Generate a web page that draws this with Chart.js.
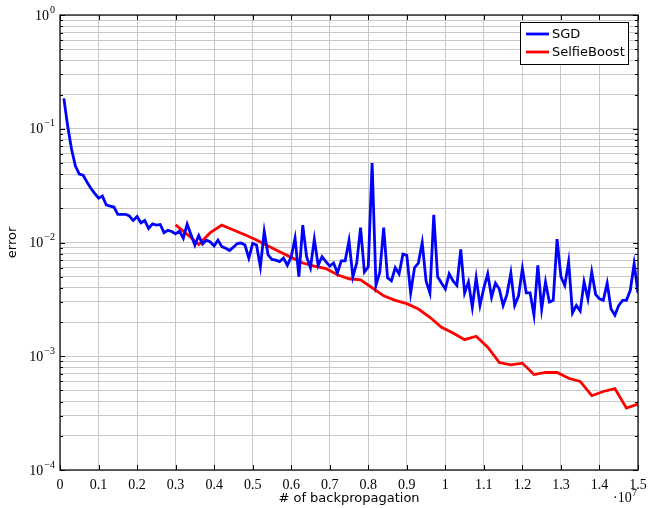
<!DOCTYPE html>
<html>
<head>
<meta charset="utf-8">
<script src="https://cdn.jsdelivr.net/npm/chart.js@4.4.1/dist/chart.umd.min.js"></script>
<style>
html,body{margin:0;padding:0;background:#fff;}
#wrap{width:648px;height:508px;}
</style>
</head>
<body>
<div id="wrap"><canvas id="c" width="648" height="508"></canvas></div>
<script>
// ---- data (x in number of backpropagations) ----
const sgdBackprops = [
 1e5,2e5,3e5,4e5,5e5,6e5,7e5,8e5,9e5,10e5,
 11e5,12e5,13e5,14e5,15e5,16e5,17e5,18e5,19e5,20e5,
 21e5,22e5,23e5,24e5,25e5,26e5,27e5,28e5,29e5,30e5,
 31e5,32e5,33e5,34e5,35e5,36e5,37e5,38e5,39e5,40e5,
 41e5,42e5,43e5,44e5,45e5,46e5,47e5,48e5,49e5,50e5,
 51e5,52e5,53e5,54e5,55e5,56e5,57e5,58e5,59e5,60e5,
 61e5,62e5,63e5,64e5,65e5,66e5,67e5,68e5,69e5,70e5,
 71e5,72e5,73e5,74e5,75e5,76e5,77e5,78e5,79e5,80e5,
 81e5,82e5,83e5,84e5,85e5,86e5,87e5,88e5,89e5,90e5,
 91e5,92e5,93e5,94e5,95e5,96e5,97e5,98e5,99e5,100e5,
 101e5,102e5,103e5,104e5,105e5,106e5,107e5,108e5,109e5,110e5,
 111e5,112e5,113e5,114e5,115e5,116e5,117e5,118e5,119e5,120e5,
 121e5,122e5,123e5,124e5,125e5,126e5,127e5,128e5,129e5,130e5,
 131e5,132e5,133e5,134e5,135e5,136e5,137e5,138e5,139e5,140e5,
 141e5,142e5,143e5,144e5,145e5,146e5,147e5,148e5,149e5,150e5
];
const sgdError = [
 0.185,0.105,0.066,0.047,0.040,0.039,0.034,0.030,0.027,0.0245,
 0.0256,0.0214,0.0209,0.0205,0.0177,0.0177,0.0177,0.0171,0.0156,0.0169,
 0.0149,0.0156,0.0133,0.0146,0.0142,0.0144,0.0122,0.0128,0.0125,0.0119,
 0.0126,0.0109,0.0145,0.0117,0.0095,0.0115,0.0097,0.0105,0.0101,0.0093,
 0.0105,0.0092,0.0089,0.0085,0.0091,0.0098,0.0099,0.0095,0.0073,0.0098,
 0.0095,0.0061,0.0125,0.0078,0.0071,0.0070,0.0068,0.0073,0.0063,0.0075,
 0.0109,0.0050,0.0142,0.0075,0.0060,0.0107,0.0063,0.0075,0.0068,0.0062,
 0.0066,0.0054,0.0069,0.0069,0.0104,0.0050,0.0066,0.0135,0.0055,0.0061,
 0.050,0.0042,0.0055,0.0135,0.0049,0.0046,0.0060,0.0053,0.0079,0.0077,
 0.0036,0.0060,0.0066,0.0100,0.0046,0.0036,0.0175,0.0050,0.0044,0.0039,
 0.0053,0.0046,0.0042,0.0087,0.0036,0.0045,0.0027,0.0049,0.0028,0.0040,
 0.0053,0.0033,0.0044,0.0039,0.0028,0.0035,0.0054,0.0028,0.0034,0.0059,
 0.0036,0.0036,0.0023,0.0063,0.0026,0.0045,0.0030,0.0031,0.0107,0.0050,
 0.0042,0.0068,0.0024,0.0028,0.0025,0.0045,0.0032,0.0055,0.0035,0.0032,
 0.0031,0.0044,0.0026,0.0023,0.0028,0.0031,0.0031,0.0038,0.0065,0.0036
];
const selfieBackprops = [
 30e5,33e5,36e5,39e5,42e5,45e5,48e5,51e5,54e5,57e5,
 60e5,63e5,66e5,69e5,72e5,75e5,78e5,81e5,84e5,87e5,
 90e5,93e5,96e5,99e5,102e5,105e5,108e5,111e5,114e5,117e5,
 120e5,123e5,126e5,129e5,132e5,135e5,138e5,141e5,144e5,147e5,150e5
];
const selfieError = [
 0.0143,0.0118,0.0096,0.0122,0.0142,0.0129,0.0117,0.0105,0.0093,0.0083,
 0.0074,0.0066,0.0062,0.0059,0.0052,0.0048,0.0047,0.0040,0.0034,0.0031,
 0.0029,0.0026,0.0022,0.0018,0.0016,0.0014,0.0015,0.0012,0.00088,0.00084,
 0.00087,0.00069,0.00072,0.00072,0.00064,0.00060,0.00045,0.00049,0.00052,0.00035,0.00038
];
const xTickValues = [0,1e6,2e6,3e6,4e6,5e6,6e6,7e6,8e6,9e6,10e6,11e6,12e6,13e6,14e6,15e6];
const xTickLabels = ['0','0.1','0.2','0.3','0.4','0.5','0.6','0.7','0.8','0.9','1','1.1','1.2','1.3','1.4','1.5'];
const yDecadeExponents = [-4,-3,-2,-1,0];
const seriesNames = ['SGD','SelfieBoost'];
const seriesColors = ['#0000ff','#ff0000'];

const pairs = (xs, ys) => xs.map((x, i) => ({x, y: ys[i]}));

const SERIF = '"Liberation Serif", "DejaVu Serif", serif';
const SANS = '"DejaVu Sans", "Liberation Sans", sans-serif';

const decor = {
  id: 'decor',
  afterDraw(chart) {
    const {ctx, chartArea: a, scales: {x, y}} = chart;
    ctx.save();
    ctx.strokeStyle = '#000';
    ctx.lineWidth = 1;
    ctx.beginPath();
    y.ticks.forEach(t => {
      const py = Math.round(y.getPixelForValue(t.value)) + 0.5;
      const len = t.major ? 5 : 3;
      ctx.moveTo(a.left, py); ctx.lineTo(a.left + len, py);
      ctx.moveTo(a.right, py); ctx.lineTo(a.right - len, py);
    });
    x.ticks.forEach(t => {
      const px = Math.round(x.getPixelForValue(t.value)) + 0.5;
      ctx.moveTo(px, a.bottom); ctx.lineTo(px, a.bottom - 5);
      ctx.moveTo(px, a.top); ctx.lineTo(px, a.top + 5);
    });
    ctx.stroke();
    ctx.lineWidth = 1.2;
    ctx.strokeRect(a.left, a.top, a.right - a.left, a.bottom - a.top);

    ctx.fillStyle = '#000';
    ctx.font = '14px ' + SERIF;
    ctx.textAlign = 'center';
    ctx.textBaseline = 'middle';
    xTickValues.forEach((v, i) => {
      ctx.fillText(xTickLabels[i], x.getPixelForValue(v), a.bottom + 15);
    });
    yDecadeExponents.forEach(e => {
      const py = y.getPixelForValue(Math.pow(10, e));
      const exp = e === 0 ? '0' : '\u2212' + Math.abs(e);
      ctx.font = '10px ' + SERIF;
      const ew = ctx.measureText(exp).width;
      ctx.textAlign = 'right';
      ctx.textBaseline = 'middle';
      const right = a.left - 5;
      ctx.fillText(exp, right, py - 5);
      ctx.font = '14px ' + SERIF;
      ctx.fillText('10', right - ew - 1, py + 1);
    });
    ctx.font = '13px ' + SANS;
    ctx.textAlign = 'center';
    ctx.textBaseline = 'middle';
    ctx.fillText('# of backpropagation', (a.left + a.right) / 2, a.bottom + 29);
    ctx.save();
    ctx.translate(13, (a.top + a.bottom) / 2);
    ctx.rotate(-Math.PI / 2);
    ctx.fillText('error', 0, 0);
    ctx.restore();
    ctx.textAlign = 'left';
    ctx.font = '14px ' + SERIF;
    ctx.fillText('\u00b710', 613, a.bottom + 28);
    ctx.font = '10px ' + SERIF;
    ctx.fillText('7', 632, a.bottom + 23);

    const lx = 520, ly = 22, lw = 108, lh = 42;
    ctx.fillStyle = '#fff';
    ctx.fillRect(lx, ly, lw, lh);
    ctx.strokeStyle = '#000';
    ctx.lineWidth = 1;
    ctx.strokeRect(lx + 0.5, ly + 0.5, lw, lh);
    seriesNames.forEach((name, i) => {
      const yy = ly + 12 + i * 18;
      ctx.strokeStyle = seriesColors[i];
      ctx.lineWidth = 2.8;
      ctx.beginPath();
      ctx.moveTo(lx + 6, yy); ctx.lineTo(lx + 29, yy);
      ctx.stroke();
      ctx.fillStyle = '#000';
      ctx.font = '13px ' + SANS;
      ctx.textAlign = 'left';
      ctx.textBaseline = 'middle';
      ctx.fillText(name, lx + 32, yy + 1);
    });
    ctx.restore();
  }
};

new Chart(document.getElementById('c'), {
  type: 'line',
  data: {
    datasets: [
      {label: seriesNames[0], data: pairs(sgdBackprops, sgdError), borderColor: seriesColors[0], borderWidth: 2.8, pointRadius: 0, tension: 0, fill: false},
      {label: seriesNames[1], data: pairs(selfieBackprops, selfieError), borderColor: seriesColors[1], borderWidth: 2.8, pointRadius: 0, tension: 0, fill: false}
    ]
  },
  options: {
    responsive: false,
    animation: false,
    layout: {padding: {left: 60, right: 10, top: 15, bottom: 38}},
    plugins: {legend: {display: false}, tooltip: {enabled: false}},
    scales: {
      x: {
        type: 'linear', min: 0, max: 15e6,
        afterBuildTicks: s => { s.ticks = xTickValues.map(v => ({value: v})); },
        ticks: {display: false},
        grid: {color: '#c8c8c8', lineWidth: 1, drawTicks: false},
        border: {display: false},
        title: {display: false}
      },
      y: {
        type: 'logarithmic', min: 1e-4, max: 1,
        afterBuildTicks: s => {
          const t = [];
          yDecadeExponents.forEach(e => {
            for (let m = 1; m <= 9; m++) {
              const v = m * Math.pow(10, e);
              if (v <= 1.0000001) t.push({value: v, major: m === 1});
            }
          });
          s.ticks = t;
        },
        ticks: {display: false},
        grid: {color: '#c8c8c8', lineWidth: 1, drawTicks: false},
        border: {display: false},
        title: {display: false}
      }
    }
  },
  plugins: [decor]
});
</script>
</body>
</html>
